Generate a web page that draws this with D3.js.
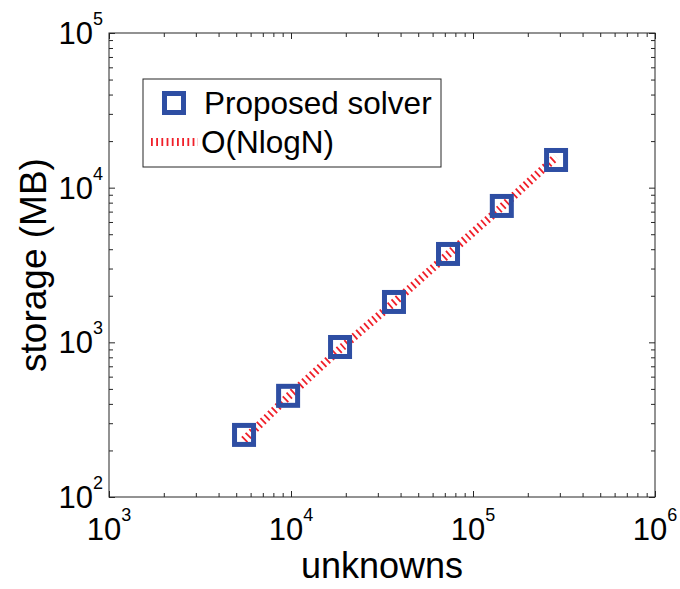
<!DOCTYPE html>
<html><head><meta charset="utf-8">
<script src="https://cdn.jsdelivr.net/npm/d3@7"></script>
<style>
body{margin:0;background:#fff}
svg text{font-family:"Liberation Sans",Arial,Helvetica,sans-serif;fill:#000}
</style></head>
<body><svg id="c" width="680" height="589"></svg>
<script>
// ---- data ----
const unknowns   = [5520, 9640, 18600, 36800, 72900, 144000, 286000];
const storage    = [252, 451, 933, 1824, 3727, 7617, 15100];
const fitStorage = [234, 445, 905, 1810, 3700, 7500, 15800];
const xTickExponents = [3, 4, 5, 6];
const yTickExponents = [2, 3, 4, 5];
const seriesNames = ["Proposed solver", "O(NlogN)"];
const axisTitles = {x: "unknowns", y: "storage (MB)"};

// ---- layout ----
const L = 109, R = 655, T = 33, B = 497;
const blue = "#2e4ea3", red = "#f0202a", axisCol = "#262626";
const svg = d3.select("#c");

const x = d3.scaleLog().domain([1e3, 1e6]).range([L, R]);
const y = d3.scaleLog().domain([1e2, 1e5]).range([B, T]);

function minorTicks(exps) {
  const out = [];
  for (let i = 0; i < exps.length - 1; i++)
    for (let m = 2; m <= 9; m++) out.push(m * Math.pow(10, exps[i]));
  return out;
}
const xMajor = xTickExponents.map(e => Math.pow(10, e));
const yMajor = yTickExponents.map(e => Math.pow(10, e));
const xMinor = minorTicks(xTickExponents);
const yMinor = minorTicks(yTickExponents);

function drawAxis(gen, transform, values, len) {
  const g = svg.append("g").attr("transform", transform)
    .call(gen.tickValues(values).tickSizeInner(len).tickSizeOuter(0).tickFormat(""));
  g.select(".domain").remove();
  g.selectAll("line").attr("stroke", axisCol).attr("stroke-width", 1);
}
// inward ticks on all four sides
drawAxis(d3.axisBottom(x), `translate(0,${B})`, xMajor, -6);
drawAxis(d3.axisBottom(x), `translate(0,${B})`, xMinor, -4);
drawAxis(d3.axisTop(x), `translate(0,${T})`, xMajor, -6);
drawAxis(d3.axisTop(x), `translate(0,${T})`, xMinor, -4);
drawAxis(d3.axisLeft(y), `translate(${L},0)`, yMajor, -6);
drawAxis(d3.axisLeft(y), `translate(${L},0)`, yMinor, -4);
drawAxis(d3.axisRight(y), `translate(${R},0)`, yMajor, -6);
drawAxis(d3.axisRight(y), `translate(${R},0)`, yMinor, -4);

svg.append("rect").attr("x", L).attr("y", T).attr("width", R - L).attr("height", B - T)
  .attr("fill", "none").attr("stroke", axisCol).attr("stroke-width", 1);

// tick labels 10^n
xTickExponents.forEach(e => {
  const t = svg.append("text").attr("x", x(Math.pow(10, e))).attr("y", B + 43)
    .attr("text-anchor", "middle").attr("font-size", 31);
  t.append("tspan").text("10");
  t.append("tspan").attr("dy", -19).attr("font-size", 18).text(e);
});
yTickExponents.forEach(e => {
  const t = svg.append("text").attr("x", L - 6).attr("y", y(Math.pow(10, e)) + 11)
    .attr("text-anchor", "end").attr("font-size", 31);
  t.append("tspan").text("10");
  t.append("tspan").attr("dy", -19).attr("font-size", 18).text(e);
});

// axis titles
svg.append("text").attr("x", (L + R) / 2).attr("y", 578).attr("text-anchor", "middle")
  .attr("font-size", 36).text(axisTitles.x);
svg.append("text").attr("transform", `translate(46,${(T + B) / 2}) rotate(-90)`)
  .attr("text-anchor", "middle").attr("font-size", 37).text(axisTitles.y);

// O(NlogN) line
const line = d3.line().x((d, i) => x(unknowns[i])).y(d => y(d));
svg.append("path").datum(fitStorage).attr("d", line)
  .attr("fill", "none").attr("stroke", red).attr("stroke-width", 8)
  .attr("stroke-dasharray", "1.8,3.4");

// markers
const ms = 19;
svg.selectAll("rect.pt").data(storage).enter().append("rect").attr("class", "pt")
  .attr("x", (d, i) => x(unknowns[i]) - ms / 2).attr("y", d => y(d) - ms / 2)
  .attr("width", ms).attr("height", ms)
  .attr("fill", "none").attr("stroke", blue).attr("stroke-width", 5);

// legend
const lg = svg.append("g");
lg.append("rect").attr("x", 143).attr("y", 79).attr("width", 298).attr("height", 88)
  .attr("fill", "#fff").attr("stroke", axisCol).attr("stroke-width", 1);
lg.append("rect").attr("x", 174 - ms / 2).attr("y", 103 - ms / 2).attr("width", ms).attr("height", ms)
  .attr("fill", "none").attr("stroke", blue).attr("stroke-width", 5);
lg.append("text").attr("x", 204).attr("y", 114).attr("font-size", 31.5).text(seriesNames[0]);
lg.append("line").attr("x1", 151).attr("x2", 198).attr("y1", 142).attr("y2", 142)
  .attr("stroke", red).attr("stroke-width", 8).attr("stroke-dasharray", "1.8,3.4");
lg.append("text").attr("x", 201).attr("y", 153).attr("font-size", 31.5).text(seriesNames[1]);
</script></body></html>
